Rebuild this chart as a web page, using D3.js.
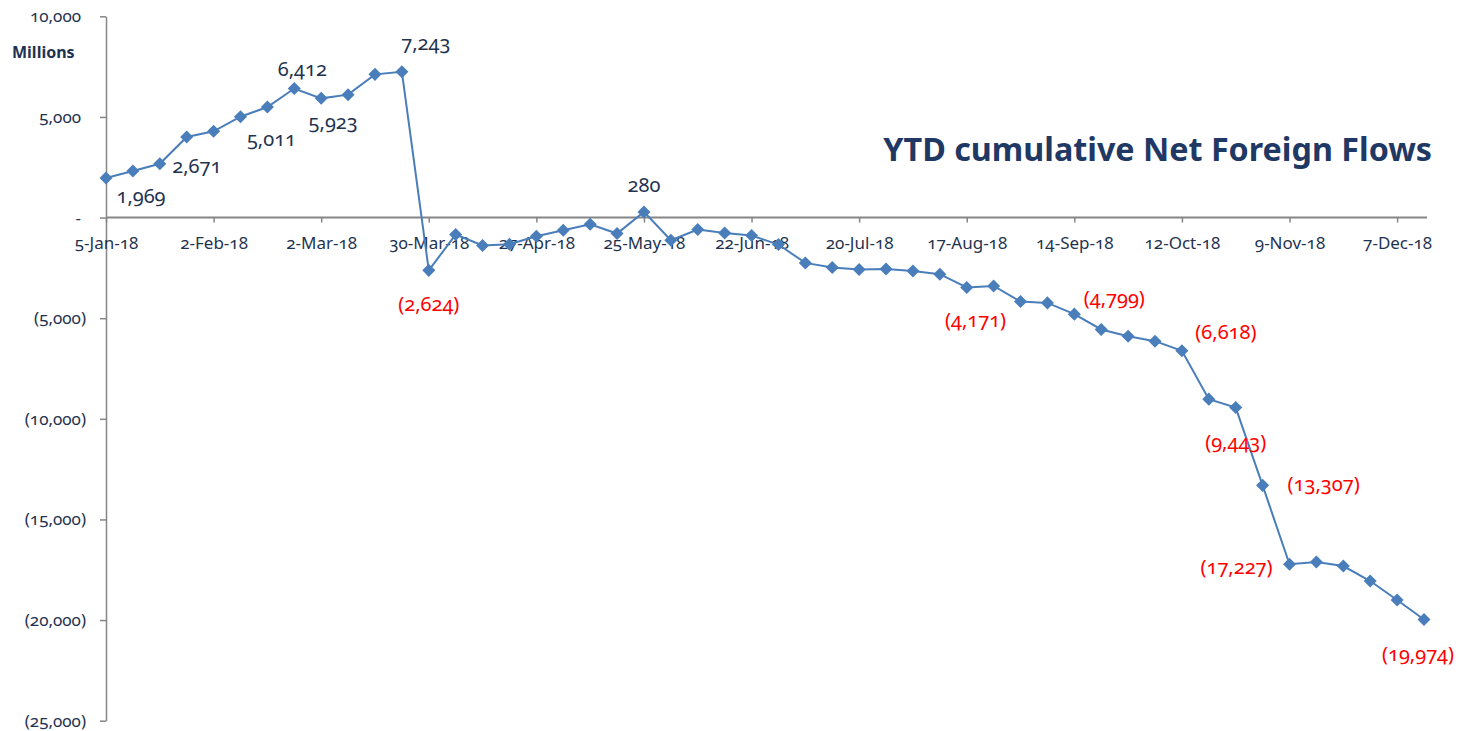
<!DOCTYPE html>
<html>
<head>
<meta charset="utf-8">
<script src="https://cdn.jsdelivr.net/npm/d3@7"></script>
<style>
    body { margin: 0; background: #fff; }
    svg text { font-family: "Noto Sans", "Open Sans", sans-serif; font-feature-settings: "onum"; }
</style>
</head>
<body>
<script>
// Weekly YTD cumulative net foreign flows, millions
var weeks = ["2018-01-05", "2018-01-12", "2018-01-19", "2018-01-26", "2018-02-02", "2018-02-09", "2018-02-16", "2018-02-23",
    "2018-03-02", "2018-03-09", "2018-03-16", "2018-03-23", "2018-03-30", "2018-04-06", "2018-04-13", "2018-04-20",
    "2018-04-27", "2018-05-04", "2018-05-11", "2018-05-18", "2018-05-25", "2018-06-01", "2018-06-08", "2018-06-15",
    "2018-06-22", "2018-06-29", "2018-07-06", "2018-07-13", "2018-07-20", "2018-07-27", "2018-08-03", "2018-08-10",
    "2018-08-17", "2018-08-24", "2018-08-31", "2018-09-07", "2018-09-14", "2018-09-21", "2018-09-28", "2018-10-05",
    "2018-10-12", "2018-10-19", "2018-10-26", "2018-11-02", "2018-11-09", "2018-11-16", "2018-11-23", "2018-11-30",
    "2018-12-07", "2018-12-14"];

var flows = [1969, 2314, 2671, 4002, 4285, 5011, 5491, 6412,
    5923, 6107, 7115, 7243, -2624, -844, -1390, -1326,
    -928, -631, -333, -795, 280, -1127, -596, -765,
    -894, -1341, -2254, -2483, -2582, -2552, -2651, -2815,
    -3476, -3396, -4171, -4240, -4799, -5561, -5894, -6142,
    -6618, -9022, -9443, -13307, -17227, -17115, -17314, -18059,
    -19002, -19974];

// which points carry a data label
var labelledWeeks = [0, 2, 5, 7, 8, 11, 12, 20, 34, 36, 40, 42, 43, 44, 49];

var xTickLabels = ["5-Jan-18", "2-Feb-18", "2-Mar-18", "30-Mar-18", "27-Apr-18", "25-May-18", "22-Jun-18",
    "20-Jul-18", "17-Aug-18", "14-Sep-18", "12-Oct-18", "9-Nov-18", "7-Dec-18"];
var yTicks = [10000, 5000, 0, -5000, -10000, -15000, -20000, -25000];

var titleText = "YTD cumulative Net Foreign Flows";
var unitText = "Millions";

// label placement, offset of label centre from its point (manual, like the original)
var labelOffset = {
    0: [35, 18], 2: [37, 2], 5: [31, 22], 7: [8, -20], 8: [12, 23], 11: [24, -29], 12: [0, 33],
    20: [0, -27], 34: [-45, 18], 36: [40, -16], 40: [44, -19], 42: [0, 34], 43: [61, -2],
    44: [-53, 3], 49: [-6, 34]
};

var parseDay = d3.timeParse("%Y-%m-%d");
var fmtTick = d3.timeFormat("%-d-%b-%y");

var points = weeks.map(function(w, i) { return { date: parseDay(w), value: flows[i], i: i }; });

var width = 1473, height = 731;
var axisColor = "#868686", textColor = "#1f3350", lineColor = "#4a7ebb";

var svg = d3.select("body").append("svg")
    .attr("width", width)
    .attr("height", height);

svg.append("defs").append("clipPath").attr("id", "plotclip")
    .append("rect").attr("x", 0).attr("y", 0).attr("width", 1457).attr("height", height);

var x = d3.scaleTime()
    .domain([points[0].date, points[points.length - 1].date])
    .range([106, 1424]);

var y = d3.scaleLinear()
    .domain([-25000, 10000])
    .range([720.7, 16.3]);

var numFmt = d3.format(",");
function accounting(v) {
    if (v === 0) return "-";
    return v < 0 ? "(" + numFmt(-v) + ")" : numFmt(v);
}

// y axis
var yAxis = d3.axisLeft(y).tickValues(yTicks).tickSize(6).tickSizeOuter(0).tickFormat(accounting);
var gy = svg.append("g").attr("transform", "translate(106,0)").call(yAxis);
gy.select(".domain").attr("stroke", axisColor).attr("stroke-width", 1.5);
gy.selectAll(".tick line").attr("stroke", axisColor).attr("stroke-width", 1.5);
gy.selectAll(".tick text")
    .attr("fill", textColor)
    .attr("font-size", 17)
    .attr("x", function(d) { return d < 0 ? -20 : -25; });

// x axis at zero
var xAxis = d3.axisBottom(x)
    .tickValues(xTickLabels.map(function(t) { return d3.timeParse("%-d-%b-%y")(t); }))
    .tickSize(5).tickSizeOuter(0).tickFormat(fmtTick);
var gx = svg.append("g").attr("transform", "translate(0," + y(0) + ")").call(xAxis);
gx.select(".domain").attr("d", "M106,0H1427").attr("stroke", axisColor).attr("stroke-width", 2);
gx.selectAll(".tick line").attr("stroke", axisColor).attr("stroke-width", 1.5);
gx.selectAll(".tick text")
    .attr("fill", textColor)
    .attr("font-size", 17)
    .attr("y", 19);

// the series
var line = d3.line()
    .x(function(d) { return x(d.date); })
    .y(function(d) { return y(d.value); });

svg.append("path")
    .datum(points)
    .attr("fill", "none")
    .attr("stroke", lineColor)
    .attr("stroke-width", 2)
    .attr("d", line);

svg.selectAll(".marker")
    .data(points)
    .enter().append("path")
    .attr("class", "marker")
    .attr("d", d3.symbol().type(d3.symbolSquare).size(85))
    .attr("transform", function(d) { return "translate(" + x(d.date) + "," + y(d.value) + ") rotate(45)"; })
    .attr("fill", lineColor);

// data labels
svg.append("g").attr("clip-path", "url(#plotclip)")
    .selectAll(".dlabel")
    .data(labelledWeeks.map(function(i) { return points[i]; }))
    .enter().append("text")
    .attr("class", "dlabel")
    .attr("x", function(d) { return x(d.date) + labelOffset[d.i][0]; })
    .attr("y", function(d) { return y(d.value) + labelOffset[d.i][1]; })
    .attr("dy", "0.36em")
    .attr("text-anchor", "middle")
    .attr("font-size", 20)
    .attr("fill", function(d) { return d.value < 0 ? "#ff0000" : textColor; })
    .text(function(d) { return accounting(d.value); });

// unit label
svg.append("text")
    .attr("x", 12).attr("y", 58)
    .attr("font-size", 16)
    .attr("font-weight", "bold")
    .attr("fill", textColor)
    .text(unitText);

// title, sized to span the same width as the original
var title = svg.append("text")
    .attr("x", 1432).attr("y", 161)
    .attr("text-anchor", "end")
    .attr("font-size", 32)
    .attr("font-weight", "bold")
    .attr("fill", "#1f3864")
    .text(titleText);
var tw = title.node().getComputedTextLength();
title.attr("font-size", 32 * 549 / tw);
</script>
</body>
</html>
